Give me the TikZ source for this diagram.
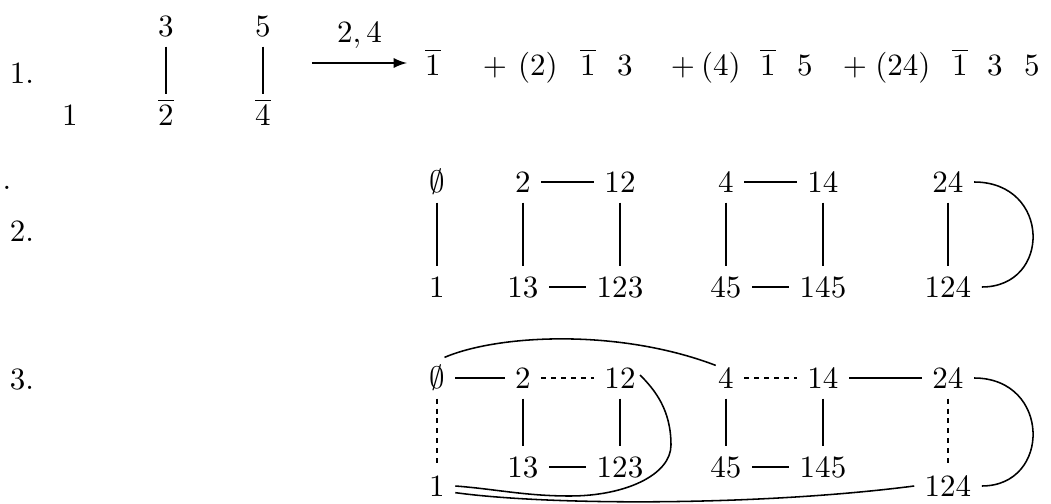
\documentclass[tikz,border=0pt]{standalone}
\usetikzlibrary{calc}
\tikzset{
  v/.style={inner sep=3.2pt, text height=6.5pt, text depth=0pt},
  ln/.style={line width=0.5pt},
  dotline/.style={line width=0.6pt, dash pattern=on 1.6pt off 1.6pt},
}
\begin{document}
\begin{tikzpicture}[x=0.3225pt,y=-0.3225pt]
        \useasboundingbox (0,0) rectangle (1051,504);
        % row labels
        \node[v] (lab1) at (22,73) {1.};
        \node[v] (lab2) at (22,231) {2.};
        \node[v] (lab3) at (22,379) {3.};
        \node[v] (stray) at (7,179) {.};
        % 1.
        \node[v] (one) at (70,115) {1};
        \node[v] (t3) at (166,26) {3};
        \node[v] (b2) at (166,115) {$\overline{2}$};
        \node[v] (t5) at (263,26) {5};
        \node[v] (b4) at (263,115) {$\overline{4}$};
        \draw[ln] (t3) -- (b2);
        \draw[ln] (t5) -- (b4);
        \coordinate (arrS) at (312,63);
        \coordinate (arrE) at (407,63);
        \draw[ln,-latex] (arrS) -- node[above=1pt] (lab24) {$2,4$} (arrE);
        \node[v] (ob1) at (433,65) {$\overline{1}$};
        \node[v] (pl1) at (495,65) {$+$};
        \node[v] (c2) at (538,65) {$(2)$};
        \node[v] (ob2) at (588,65) {$\overline{1}$};
        \node[v] (s3) at (625,65) {$3$};
        \node[v] (pl2) at (683,65) {$+$};
        \node[v] (c4) at (721,65) {$(4)$};
        \node[v] (ob3) at (768,65) {$\overline{1}$};
        \node[v] (s5) at (805,65) {$5$};
        \node[v] (pl3) at (855,65) {$+$};
        \node[v] (c24) at (903,65) {$(24)$};
        \node[v] (ob4) at (960,65) {$\overline{1}$};
        \node[v] (u3) at (995,65) {$3$};
        \node[v] (u5) at (1032,65) {$5$};
        % 2.
        \node[v] (a0) at (437,182) {$\emptyset$};
        \node[v] (a1) at (437,287) {1};
        \node[v] (a2) at (523,182) {2};
        \node[v] (a12) at (620,182) {12};
        \node[v] (a13) at (523,287) {13};
        \node[v] (a123) at (620,287) {123};
        \node[v] (a4) at (726,182) {4};
        \node[v] (a14) at (823,182) {14};
        \node[v] (a45) at (726,287) {45};
        \node[v] (a145) at (823,287) {145};
        \node[v] (a24) at (948,182) {24};
        \node[v] (a124) at (948,287) {124};
        \draw[ln] (a0) -- (a1);
        \draw[ln] (a2) -- (a12);
        \draw[ln] (a2) -- (a13);
        \draw[ln] (a12) -- (a123);
        \draw[ln] (a13) -- (a123);
        \draw[ln] (a4) -- (a14);
        \draw[ln] (a4) -- (a45);
        \draw[ln] (a14) -- (a145);
        \draw[ln] (a45) -- (a145);
        \draw[ln] (a24) -- (a124);
        \draw[ln] (a24.east) .. controls +(77,0) and +(70,0) .. (a124.east);
        % 3.
        \node[v] (b0) at (437,378) {$\emptyset$};
        \node[v] (b1) at (437,486) {1};
        \node[v] (b2) at (523,378) {2};
        \node[v] (b12) at (620,378) {12};
        \node[v] (b13) at (523,467) {13};
        \node[v] (b123) at (620,467) {123};
        \node[v] (b4) at (726,378) {4};
        \node[v] (b14) at (823,378) {14};
        \node[v] (b45) at (726,467) {45};
        \node[v] (b145) at (823,467) {145};
        \node[v] (b24) at (948,378) {24};
        \node[v] (b124) at (948,486) {124};
        \coordinate (loopR) at (671,445);
        \coordinate (loopB) at (570,496);
        \draw[ln] (b0) -- (b2);
        \draw[dotline] (b2) -- (b12);
        \draw[ln] (b2) -- (b13);
        \draw[ln] (b12) -- (b123);
        \draw[ln] (b13) -- (b123);
        \draw[dotline] (b4) -- (b14);
        \draw[ln] (b14) -- (b24);
        \draw[ln] (b4) -- (b45);
        \draw[ln] (b14) -- (b145);
        \draw[ln] (b45) -- (b145);
        \draw[dotline] (b0) -- (b1);
        \draw[dotline] (b24) -- (b124);
        \draw[ln] (b0.70) .. controls +(54,-23) and +(-97,-37) .. ($(b4.north west)+(8,8)$);
        \draw[ln] ($(b12.east)+(-6,-3)$) .. controls +(15,15) and +(0,-35) .. (loopR)
                  .. controls +(0,30) and +(55,0) .. (loopB)
                  .. controls +(-45,0) and +(40,3) .. (b1.east);
        \draw[ln] (b1.-20) .. controls +(95,13) and +(-155,20) .. (b124.west);
        \draw[ln] (b24.east) .. controls +(77,0) and +(70,0) .. (b124.east);
        %\draw[ln] (b0) -- (b4);
\end{tikzpicture}
\end{document}
